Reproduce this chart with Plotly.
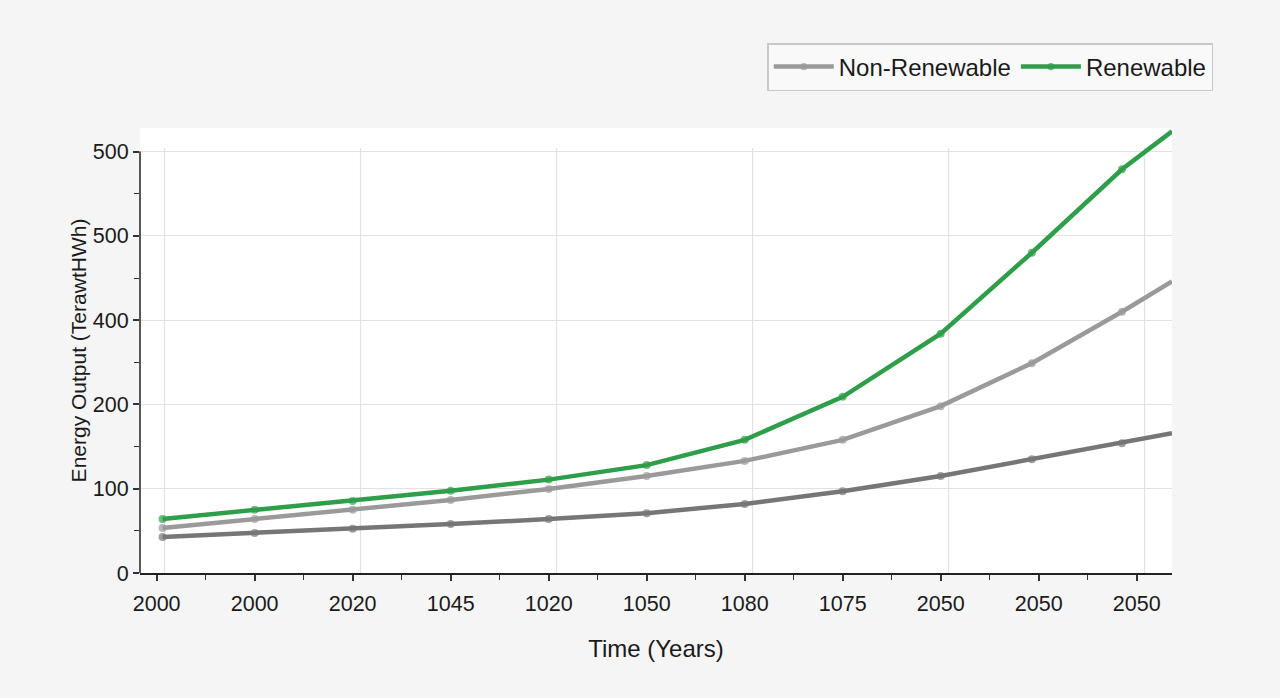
import plotly.graph_objects as go

# Tick labels as printed on the reference
x_tick_labels = ["2000", "2000", "2020", "1045", "1020", "1050", "1080", "1075", "2050", "2050", "2050"]
y_tick_values = [0, 100, 200, 300, 400, 500]
y_tick_labels = ["0", "100", "200", "400", "500", "500"]

# Point positions along the time axis (tick index units)
x_pos = [0.06, 1.0, 2.0, 3.0, 4.0, 5.0, 6.0, 7.0, 8.0, 8.93, 9.85, 10.36]

renewable = [64, 75, 85.5, 97.7, 110.8, 128, 158, 209, 284, 380, 479, 524]
non_renewable = [53.4, 64, 75, 86.7, 99.8, 115, 133, 158, 198, 249, 310, 346]
baseline = [42.8, 47.5, 52.5, 58, 64, 71, 82, 97, 115, 135, 154, 166]

FONT = "Liberation Sans, Arial, sans-serif"
GREEN = "#2f9e4a"
LIGHT_GRAY = "#9a9a9a"
DARK_GRAY = "#767676"

fig = go.Figure()

marker_sizes = [8] * (len(x_pos) - 1) + [0]

fig.add_trace(go.Scatter(
    x=x_pos, y=baseline, mode="lines+markers", name="Baseline", showlegend=False,
    line=dict(color=DARK_GRAY, width=4.5), marker=dict(color=DARK_GRAY, size=marker_sizes, line=dict(width=0)),
))
fig.add_trace(go.Scatter(
    x=x_pos, y=non_renewable, mode="lines+markers", name="Non-Renewable",
    line=dict(color=LIGHT_GRAY, width=4.5), marker=dict(color=LIGHT_GRAY, size=marker_sizes, line=dict(width=0)),
))
fig.add_trace(go.Scatter(
    x=x_pos, y=renewable, mode="lines+markers", name="Renewable",
    line=dict(color=GREEN, width=4.5), marker=dict(color=GREEN, size=marker_sizes, line=dict(width=0)),
))

# vertical grid lines at every other tick
shapes = []
for i in range(0, len(x_tick_labels), 2):
    shapes.append(dict(type="line", xref="x", yref="paper", x0=i + 0.08, x1=i + 0.08, y0=0, y1=0.955,
                       line=dict(color="#e2e2e2", width=1.2), layer="below"))
# left axis line up to the top tick
shapes.append(dict(type="line", xref="paper", yref="y", x0=0, x1=0, y0=0, y1=500,
                   line=dict(color="#222222", width=1.5)))

fig.update_layout(
    width=1280, height=698,
    margin=dict(l=140, r=108, t=128, b=125),
    paper_bgcolor="#f5f5f5",
    plot_bgcolor="#ffffff",
    font=dict(family=FONT, color="#1a1a1a"),
    shapes=shapes,
    legend=dict(
        orientation="h", x=1.04, xanchor="right", y=1.191, yanchor="top",
        bgcolor="#f9f9f9", bordercolor="#c8c8c8", borderwidth=1.5,
        font=dict(size=24, family=FONT, color="#1a1a1a"),
        itemwidth=60, traceorder="normal",
    ),
    xaxis=dict(
        range=[-0.17, 10.36],
        tickmode="array", tickvals=list(range(len(x_tick_labels))), ticktext=x_tick_labels,
        tickfont=dict(size=21.5, family=FONT, color="#1a1a1a"),
        ticks="outside", ticklen=6, tickcolor="#333", tickwidth=1.5,
        ticklabelstandoff=4,
        minor=dict(ticks="outside", ticklen=5, tickcolor="#333", tickwidth=1.2, dtick=0.5, tick0=0, showgrid=False),
        showgrid=False, zeroline=False,
        showline=True, linecolor="#222", linewidth=1.5,
        title=dict(text="Time (Years)", font=dict(size=24, family=FONT, color="#1a1a1a"), standoff=26),
    ),
    yaxis=dict(
        range=[0, 528],
        tickmode="array", tickvals=y_tick_values, ticktext=y_tick_labels,
        tickfont=dict(size=21.5, family=FONT, color="#1a1a1a"),
        ticks="outside", ticklen=6, tickcolor="#333", tickwidth=1.5,
        minor=dict(ticks="outside", ticklen=5, tickcolor="#333", tickwidth=1.2, dtick=50, tick0=0, showgrid=False),
        showgrid=True, gridcolor="#e2e2e2", gridwidth=1.2, zeroline=False,
        showline=False,
        title=dict(text="Energy Output (TerawtHWh)", font=dict(size=21, family=FONT, color="#1a1a1a"), standoff=0),
    ),
)

fig.write_html("out.html")
